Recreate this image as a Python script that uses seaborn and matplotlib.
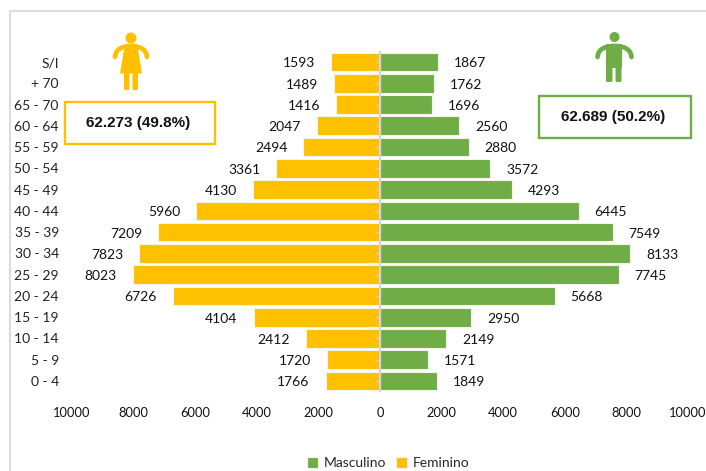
import numpy as np
import pandas as pd
import matplotlib
matplotlib.use("Agg")
import matplotlib.pyplot as plt
from matplotlib.patches import Circle, Rectangle, FancyBboxPatch, Polygon, PathPatch
from matplotlib.path import Path
import seaborn as sns

# Datos
grupos = ["S/I", "+ 70", "65 - 70", "60 - 64", "55 - 59", "50 - 54", "45 - 49", "40 - 44",
          "35 - 39", "30 - 34", "25 - 29", "20 - 24", "15 - 19", "10 - 14", "5 - 9", "0 - 4"]
masculino = [1867, 1762, 1696, 2560, 2880, 3572, 4293, 6445,
             7549, 8133, 7745, 5668, 2950, 2149, 1571, 1849]
feminino = [1593, 1489, 1416, 2047, 2494, 3361, 4130, 5960,
            7209, 7823, 8023, 6726, 4104, 2412, 1720, 1766]
ticks_x = [-10000, -8000, -6000, -4000, -2000, 0, 2000, 4000, 6000, 8000, 10000]
texto_fem = "62.273 (49.8%)"
texto_masc = "62.689 (50.2%)"

AMARILLO = "#FFC000"
VERDE = "#70AD47"
W, H = 706, 471
FS = 10

sns.set_theme(style="white")
plt.rcParams["font.family"] = ["Lato", "DejaVu Sans"]

df = pd.concat([
    pd.DataFrame({"grupo": grupos, "valor": masculino, "sexo": "Masculino"}),
    pd.DataFrame({"grupo": grupos, "valor": [-v for v in feminino], "sexo": "Feminino"}),
])

fig = plt.figure(figsize=(W / 100, H / 100), dpi=100)
ax = fig.add_axes([72 / W, 1 - 391.6 / H, 616 / W, 340.2 / H])

sns.barplot(
    data=df, y="grupo", x="valor", hue="sexo", order=grupos,
    hue_order=["Masculino", "Feminino"], palette=[VERDE, AMARILLO],
    dodge=False, orient="h", width=0.88, ax=ax, saturation=1,
    edgecolor="#f4f4ea", linewidth=0.8,
)

ax.set_xlim(-10000, 10000)
ax.set_ylim(15.5, -0.5)
ax.set_xlabel("")
ax.set_ylabel("")
ax.set_xticks(ticks_x)
ax.set_xticklabels([str(abs(t)) for t in ticks_x], fontsize=9.3, color="#111111")
ax.tick_params(axis="x", length=0, pad=11)
ax.tick_params(axis="y", length=0, pad=9.5, labelsize=FS, labelcolor="#222222")
sns.despine(ax=ax, left=True, bottom=True)

# Eje central con sus marcas
ax.axvline(0, color="#d4d4d4", lw=1.5, zorder=4)
ax.plot([0] * len(grupos), range(len(grupos)), ls="", marker=0, ms=3,
        mec="#d9d9d9", mew=1, zorder=4, clip_on=False)

# Etiquetas
for cont, vals in zip(ax.containers, [masculino, feminino]):
    textos = ax.bar_label(cont, labels=[str(v) for v in vals], padding=11.5,
                          fontsize=FS, color="#111111")
    for t in textos:
        t.xyann = (t.xyann[0], -1)

# Leyenda
sns.move_legend(ax, "center", bbox_to_anchor=(388 / W, 1 - 463 / H),
                bbox_transform=fig.transFigure, ncol=2, title=None, frameon=False,
                fontsize=FS, handlelength=0.8, handleheight=0.8, handletextpad=0.4,
                columnspacing=0.7)

# Capa en pixeles: marco, cajas e iconos
capa = fig.add_axes([0, 0, 1, 1], zorder=5)
capa.set_xlim(0, W)
capa.set_ylim(H, 0)
capa.axis("off")
capa.patch.set_alpha(0)

capa.plot([10, 10, W], [H, 11, 11], color="#dcdcdc", lw=1.5)


def caja(x0, y0, x1, y1, color, texto):
    capa.add_patch(Rectangle((x0, y0), x1 - x0, y1 - y0, fc="white", ec=color, lw=1.7))
    capa.text((x0 + x1) / 2 - 1.5, (y0 + y1) / 2, texto, ha="center", va="center", fontsize=11,
              fontweight="bold", color="#111111", family=["Liberation Sans"])


caja(65, 102, 215, 144, AMARILLO, texto_fem)
caja(539, 96, 691, 138, VERDE, texto_masc)


def brazos(cx, y_top, ancho, color):
    verts = [(cx - ancho, y_top + 11), (cx - ancho + 1, y_top), (cx, y_top),
             (cx + ancho - 1, y_top), (cx + ancho, y_top + 11)]
    codes = [Path.MOVETO, Path.CURVE3, Path.CURVE3, Path.CURVE3, Path.CURVE3]
    capa.add_patch(PathPatch(Path(verts, codes), fc="none", ec=color, lw=3.4, capstyle="round"))


def pierna(x0, x1, y0, y1, color):
    capa.add_patch(FancyBboxPatch((x0 + 1.5, y0), x1 - x0 - 3, y1 - y0 - 1.5,
                                  boxstyle="round,pad=1.5", fc=color, ec="none"))


# Mujer
capa.add_patch(Circle((131, 38), 5.5, fc=AMARILLO, ec="none"))
brazos(131, 46, 16, AMARILLO)
capa.add_patch(Polygon([(125, 44), (137, 44), (142, 73.5), (120, 73.5)], fc=AMARILLO, ec="none"))
pierna(124, 129.5, 70, 90, AMARILLO)
pierna(132.5, 138, 70, 90, AMARILLO)

# Hombre
capa.add_patch(Circle((614.5, 37), 5, fc=VERDE, ec="none"))
brazos(614.5, 46, 17, VERDE)
capa.add_patch(Rectangle((606, 44), 15.5, 24, fc=VERDE, ec="none"))
pierna(606, 612.5, 60, 82, VERDE)
pierna(615.5, 621.5, 60, 82, VERDE)

fig.savefig("out.png", dpi=100, facecolor="white")
